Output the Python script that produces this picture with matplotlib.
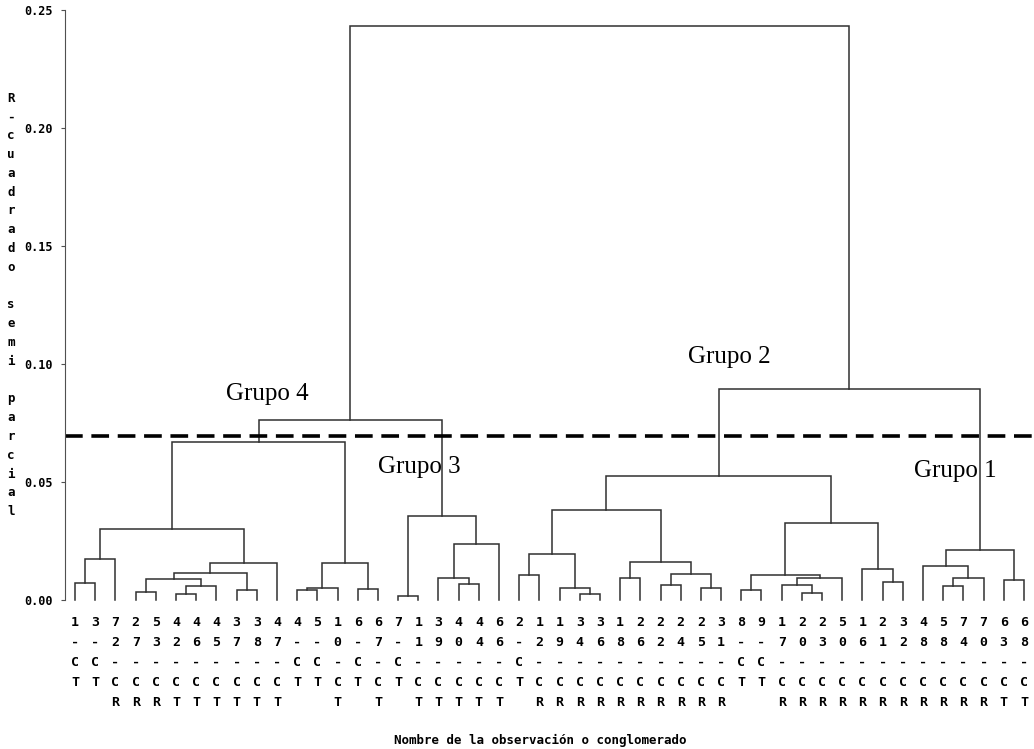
import numpy as np
import matplotlib
matplotlib.use("Agg")
import matplotlib.pyplot as plt

# leaf order along the x axis
leaf_labels = ["1-CT", "3-CT", "72-CR", "27-CR", "53-CR", "42-CT", "46-CT", "45-CT",
               "37-CT", "38-CT", "47-CT", "4-CT", "5-CT", "10-CT", "6-CT", "67-CT",
               "7-CT", "11-CT", "39-CT", "40-CT", "44-CT", "66-CT", "2-CT", "12-CR",
               "19-CR", "34-CR", "36-CR", "18-CR", "26-CR", "22-CR", "24-CR", "25-CR",
               "31-CR", "8-CT", "9-CT", "17-CR", "20-CR", "23-CR", "50-CR", "16-CR",
               "21-CR", "32-CR", "48-CR", "58-CR", "74-CR", "70-CR", "63-CT", "68-CT"]

# merges: (left, right) -> a leaf label or the index of an earlier merge
merge_left = ["1-CT", 0, "27-CR", "42-CT", 3, 2, "37-CT", 5, 7, 1,
              "4-CT", 10, "6-CT", 11, 9, "7-CT", "40-CT", "39-CT", 17, 15,
              14, "2-CT", "34-CR", "19-CR", 21, "18-CR", "22-CR", "25-CR", 26, 25,
              24, "8-CT", "20-CR", "17-CR", 33, 31, "21-CR", "16-CR", 35, 30,
              "58-CR", 40, "48-CR", "63-CT", 42, 39, 20]
merge_right = ["3-CT", "72-CR", "53-CR", "46-CT", "45-CT", 4, "38-CT", 6, "47-CT", 8,
               "5-CT", "10-CT", "67-CT", 12, 13, "11-CT", "44-CT", 16, "66-CT", 18,
               19, "12-CR", "36-CR", 22, 23, "26-CR", "24-CR", "31-CR", 27, 28,
               29, "9-CT", "23-CR", 32, "50-CR", 34, "32-CR", 36, 37, 38,
               "74-CR", "70-CR", 41, "68-CT", 43, 44, 45]
merge_height = [0.0071, 0.0174, 0.0035, 0.0025, 0.0061, 0.0088, 0.0041, 0.0116, 0.0156, 0.0300,
                0.0042, 0.0052, 0.0048, 0.0156, 0.0669, 0.0017, 0.0067, 0.0092, 0.0237, 0.0357,
                0.0761, 0.0106, 0.0025, 0.0050, 0.0196, 0.0094, 0.0065, 0.0050, 0.0110, 0.0162,
                0.0380, 0.0042, 0.0028, 0.0065, 0.0094, 0.0106, 0.0075, 0.0130, 0.0325, 0.0524,
                0.0059, 0.0094, 0.0145, 0.0085, 0.0211, 0.0894, 0.2432]

cut_height = 0.0695
group_names = ["Grupo 4", "Grupo 3", "Grupo 2", "Grupo 1"]
group_pos = [(10.5, 0.0873), (18.03, 0.0564), (33.39, 0.103), (44.58, 0.0547)]

y_ticks = [0.00, 0.05, 0.10, 0.15, 0.20, 0.25]
y_title = "R-cuadrado semi parcial"
x_title = "Nombre de la observación o conglomerado"

W, H = 1034, 749
fig = plt.figure(figsize=(W / 100, H / 100), dpi=100)
ax = fig.add_axes([65 / W, 149 / H, 969 / W, 590 / H])

line_col = "#303030"
node_x = []
node_h = []

def child_pos(c):
    if isinstance(c, str):
        return leaf_labels.index(c) + 1, 0.0
    return node_x[c], node_h[c]

for a, b, h in zip(merge_left, merge_right, merge_height):
    xa, ha = child_pos(a)
    xb, hb = child_pos(b)
    ax.plot([xa, xa, xb, xb], [ha, h, h, hb], color=line_col, lw=1.1,
            solid_joinstyle="miter", clip_on=False)
    node_x.append((xa + xb) / 2)
    node_h.append(h)

# cut line
ax.axhline(cut_height, color="black", lw=2.6, ls=(0, (4.9, 2.4)))

for name, (gx, gy) in zip(group_names, group_pos):
    ax.text(gx, gy, name, family="Liberation Serif", fontsize=18,
            ha="center", va="center")

ax.set_xlim(0.5, 48.5)
ax.set_ylim(0, 0.25)
for s in ["top", "right", "bottom"]:
    ax.spines[s].set_visible(False)
ax.spines["left"].set_color("#505050")
ax.set_xticks([])
ax.set_yticks(y_ticks)
ax.set_yticklabels(["%.2f" % t for t in y_ticks], family="DejaVu Sans Mono",
                   fontweight="bold", fontsize=8.5)
ax.tick_params(axis="y", length=3, color="#505050", pad=5.5)

# leaf labels, one character per row
for i, lab in enumerate(leaf_labels):
    for r, ch in enumerate(lab):
        ax.annotate(ch, xy=(i + 1, 0), xycoords=ax.get_xaxis_transform(),
                    xytext=(0, -(22 + 20 * r)), textcoords="offset pixels",
                    ha="center", va="center", family="DejaVu Sans Mono",
                    fontweight="bold", fontsize=9.5)

# vertical stacked y title
for i, ch in enumerate(y_title):
    if ch == " ":
        continue
    fig.text(11 / W, 1 - (98 + i * 18.8) / H, ch, ha="center", va="center",
             family="DejaVu Sans Mono", fontweight="bold", fontsize=9)

fig.text(540 / W, 1 - 740 / H, x_title, ha="center", va="center",
         family="DejaVu Sans Mono", fontweight="bold", fontsize=9)

fig.savefig("out.png", dpi=100)
